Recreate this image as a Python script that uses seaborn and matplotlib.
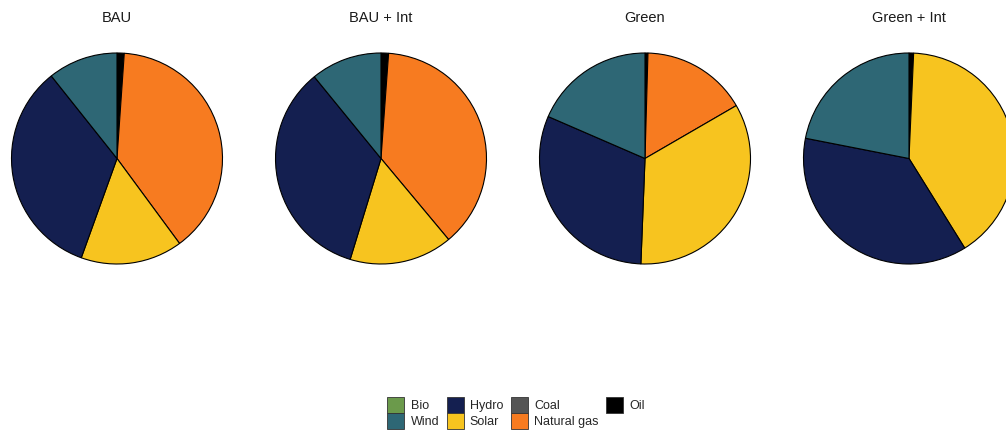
import matplotlib
matplotlib.use("Agg")
import matplotlib.pyplot as plt
from matplotlib.patches import Patch
import seaborn as sns

scenarios = ["BAU", "BAU + Int", "Green", "Green + Int"]
sources = ["Bio", "Wind", "Hydro", "Solar", "Coal", "Natural gas", "Oil"]
colors = ["#6b9a4b", "#2e6775", "#141f50", "#f7c41f", "#555555", "#f77b20", "#000000"]

bau = [0.0, 10.7, 33.8, 15.6, 0.0, 38.8, 1.1]
bau_int = [0.0, 10.9, 34.4, 15.8, 0.0, 37.8, 1.15]
green = [0.0, 18.5, 30.9, 34.0, 0.0, 16.2, 0.45]
green_int = [0.0, 21.9, 36.9, 40.4, 0.0, 0.0, 0.7]
shares = [bau, bau_int, green, green_int]

sns.set_theme(style="white")
plt.rcParams['font.family'] = ['Liberation Sans', 'DejaVu Sans']

W, H = 1006, 432
fig = plt.figure(figsize=(W / 100, H / 100), dpi=100)

R = 105.5
cy = 158.5
half = 120
for i, (name, vals) in enumerate(zip(scenarios, shares)):
    cx = 117 + 264 * i
    ax = fig.add_axes([(cx - half) / W, (H - cy - half) / H, 2 * half / W, 2 * half / H])
    order = list(range(len(sources)))[::-1]
    v = [vals[k] for k in order if vals[k] > 0]
    c = [colors[k] for k in order if vals[k] > 0]
    ax.pie(v, colors=c, startangle=90, counterclock=False, radius=1.0,
           wedgeprops=dict(edgecolor="black", linewidth=0.8))
    lim = half / R
    ax.set_xlim(-lim, lim)
    ax.set_ylim(-lim, lim)
    ax.set_aspect("equal")
    ax.axis("off")
    fig.text(cx / W, (H - 18) / H, name, ha="center", va="center", fontsize=10.5, color="#1a1a1a")

handles = [Patch(facecolor=col, edgecolor="#333333", linewidth=0.6, label=s)
           for s, col in zip(sources, colors)]
fig.legend(handles=handles, ncol=4, loc="center", bbox_to_anchor=(516 / W, (H - 413) / H),
           frameon=False, fontsize=9, handlelength=1.36, handleheight=1.6,
           handletextpad=0.5, columnspacing=0.6, labelspacing=0.05, borderpad=0)

fig.savefig("out.png", dpi=100)
